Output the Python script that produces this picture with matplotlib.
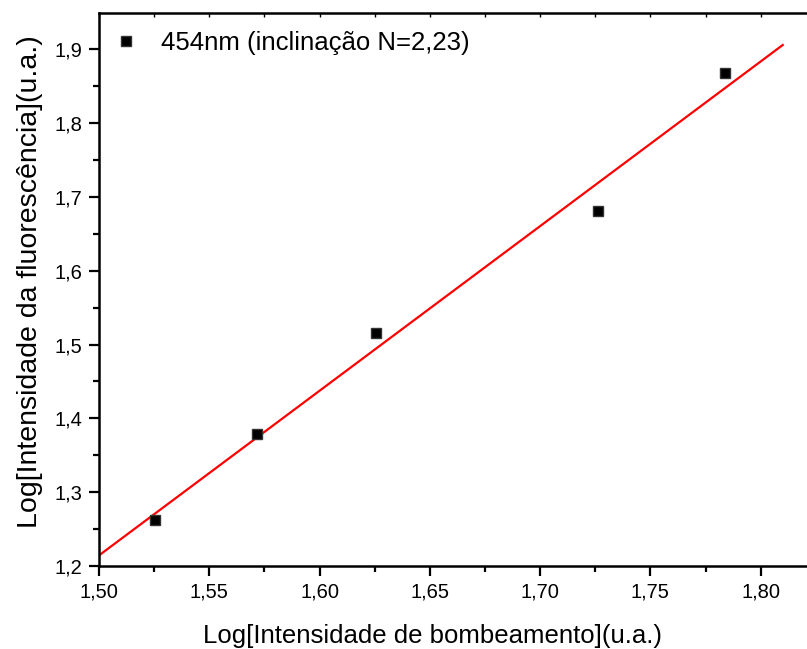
import matplotlib
matplotlib.use("Agg")
import matplotlib.pyplot as plt
import numpy as np
from matplotlib.ticker import MultipleLocator, FuncFormatter

# log10 of pump intensity vs log10 of fluorescence intensity, 454 nm band
log_pump = [1.5254, 1.5716, 1.6255, 1.7261, 1.7836]
log_fluor = [1.2623, 1.3787, 1.5155, 1.6806, 1.8675]
slope_n = 2.23
fit_x = [1.50, 1.81]

plt.rcParams['font.family'] = ['Liberation Sans', 'DejaVu Sans']

fig = plt.figure(figsize=(8.07, 6.49), dpi=100)
ax = fig.add_axes([99/807, 1 - 566/649, 1 - 99/807, (566 - 13)/649])

x = np.array(log_pump)
y = np.array(log_fluor)
# straight line with the stated slope through the centroid of the points
b = y.mean() - slope_n * x.mean()
xf = np.array(fit_x)
ax.plot(xf, b + slope_n * xf, '-', color='red', lw=1.6, zorder=2)

ax.plot(x, y, 's', color='black', ms=7.5, mec='#333333', mew=1.0, zorder=3,
        label='454nm (inclinação N=2,23)')

ax.set_xlim(1.50, 1.821)
ax.set_ylim(1.20, 1.949)

ax.xaxis.set_major_locator(MultipleLocator(0.05))
ax.xaxis.set_minor_locator(MultipleLocator(0.025))
ax.yaxis.set_major_locator(MultipleLocator(0.1))
ax.yaxis.set_minor_locator(MultipleLocator(0.05))
ax.xaxis.set_major_formatter(FuncFormatter(lambda v, p: f"{v:.2f}".replace('.', ',')))
ax.yaxis.set_major_formatter(FuncFormatter(lambda v, p: f"{v:.1f}".replace('.', ',')))

for s in ['left', 'bottom', 'top']:
    ax.spines[s].set_linewidth(1.8)
ax.spines['right'].set_visible(False)

ax.tick_params(which='major', direction='out', length=7, width=1.6, labelsize=14.5, pad=5)
ax.tick_params(which='minor', direction='out', length=4, width=1.6)
ax.tick_params(which='both', top=True, right=False)
ax.tick_params(axis='x', which='both', labeltop=False)

# Origin-style top axis: short ticks pointing inward
for t in ax.xaxis.get_major_ticks() + ax.xaxis.get_minor_ticks():
    t.tick2line.set_marker(3)
    t.tick2line.set_markersize(3)
    t.tick2line.set_markeredgewidth(1.0)

ax.set_xlabel('Log[Intensidade de bombeamento](u.a.)', fontsize=18.5)
ax.set_ylabel('Log[Intensidade da fluorescência](u.a.)', fontsize=20.5)
ax.xaxis.set_label_coords(0.471, -58/553)
ax.yaxis.set_label_coords(-0.079, 0.515)

ax.legend(loc='upper left', frameon=False, fontsize=18.5, handletextpad=0.35,
          borderaxespad=0.0, bbox_to_anchor=(-0.012, 0.986), markerscale=0.95)

fig.savefig('out.png', dpi=100)
